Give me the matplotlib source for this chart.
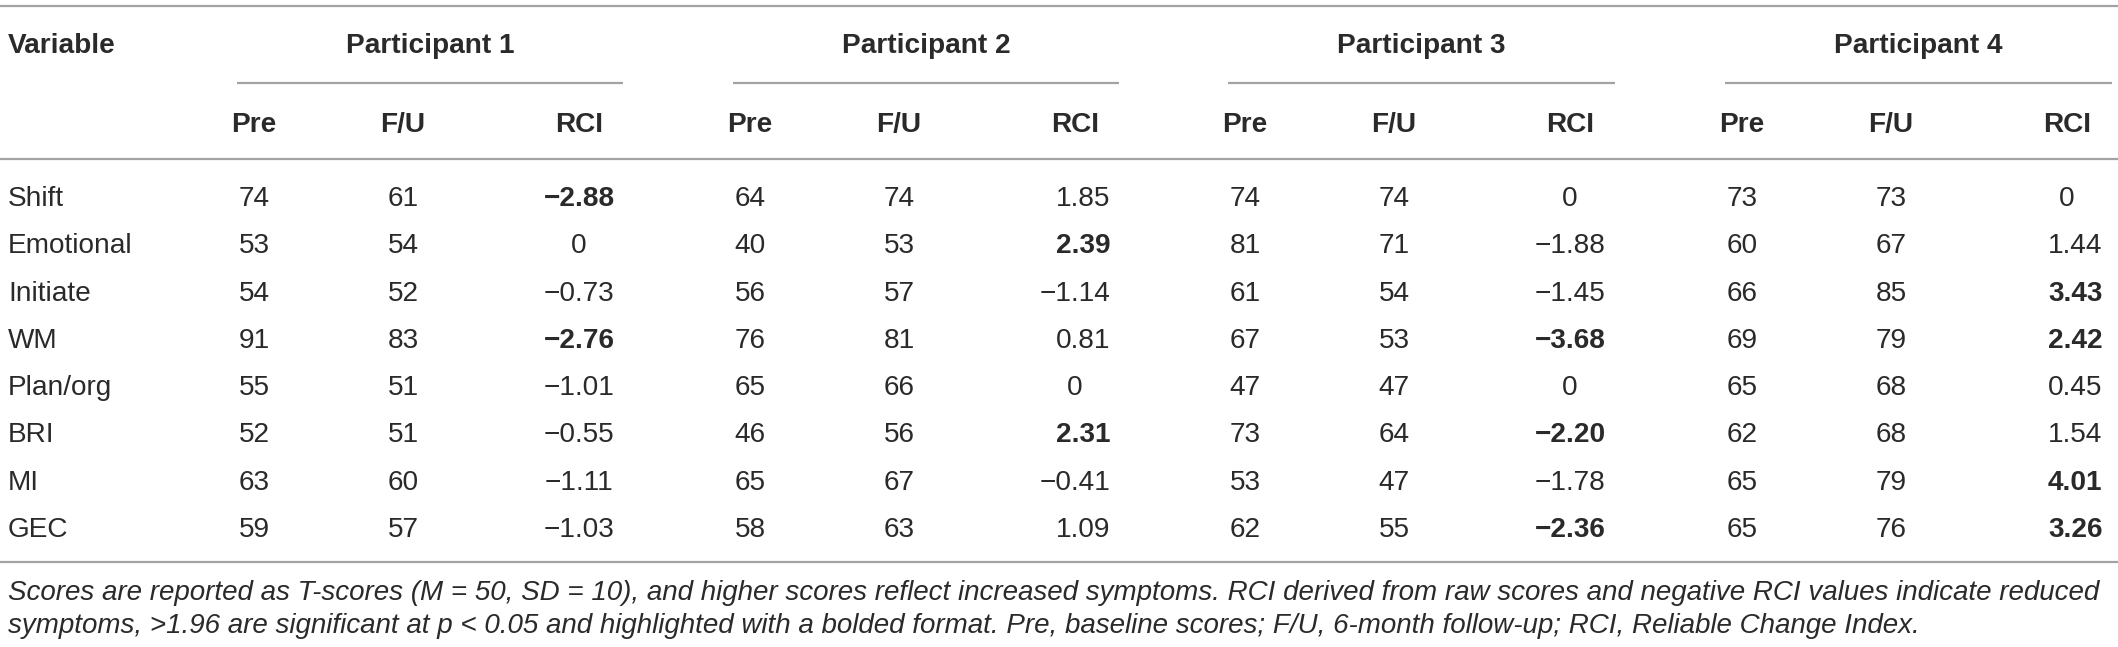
import matplotlib
matplotlib.use("Agg")
import matplotlib.pyplot as plt

# ---------------- data ----------------
variables = ["Shift", "Emotional", "Initiate", "WM", "Plan/org", "BRI", "MI", "GEC"]
participants = ["Participant 1", "Participant 2", "Participant 3", "Participant 4"]
sub_headers = ["Pre", "F/U", "RCI"]

p1_pre = [74, 53, 54, 91, 55, 52, 63, 59]
p1_fu = [61, 54, 52, 83, 51, 51, 60, 57]
p1_rci = [-2.88, 0, -0.73, -2.76, -1.01, -0.55, -1.11, -1.03]

p2_pre = [64, 40, 56, 76, 65, 46, 65, 58]
p2_fu = [74, 53, 57, 81, 66, 56, 67, 63]
p2_rci = [1.85, 2.39, -1.14, 0.81, 0, 2.31, -0.41, 1.09]

p3_pre = [74, 81, 61, 67, 47, 73, 53, 62]
p3_fu = [74, 71, 54, 53, 47, 64, 47, 55]
p3_rci = [0, -1.88, -1.45, -3.68, 0, -2.20, -1.78, -2.36]

p4_pre = [73, 60, 66, 69, 65, 62, 65, 65]
p4_fu = [73, 67, 85, 79, 68, 68, 79, 76]
p4_rci = [0, 1.44, 3.43, 2.42, 0.45, 1.54, 4.01, 3.26]

footnote_lines = [
    "Scores are reported as T-scores (M = 50, SD = 10), and higher scores reflect increased symptoms. "
    "RCI derived from raw scores and negative RCI values indicate reduced",
    "symptoms, >1.96 are significant at p < 0.05 and highlighted with a bolded format. "
    "Pre, baseline scores; F/U, 6-month follow-up; RCI, Reliable Change Index.",
]

data = [
    (p1_pre, p1_fu, p1_rci),
    (p2_pre, p2_fu, p2_rci),
    (p3_pre, p3_fu, p3_rci),
    (p4_pre, p4_fu, p4_rci),
]

# ---------------- layout ----------------
W, H = 2118, 647
DPI = 100
FONT = "Liberation Sans"
TXT = "#2a2a2a"
LINE = "#a3a3a3"
FS = 28 * 72 / DPI          # 28 px body text

fig = plt.figure(figsize=(W / DPI, H / DPI), dpi=DPI)
ax = fig.add_axes([0, 0, 1, 1])
ax.set_xlim(0, W)
ax.set_ylim(H, 0)
ax.axis("off")

group_start = [237, 733, 1228, 1725]
group_end = [623, 1119, 1615, 2112]
col_off = [17, 166, 342]

def hline(y, x0, x1, lw=1.6):
    ax.plot([x0, x1], [y, y], color=LINE, lw=lw, solid_capstyle="butt")

hline(6, 0, W)
hline(159, 0, W)
hline(562, 0, W)

ax.text(8, 53, "Variable", fontsize=FS, fontweight="bold", family=FONT,
        color=TXT, ha="left", va="baseline")

for g, name in enumerate(participants):
    x0, x1 = group_start[g], group_end[g]
    ax.text((x0 + x1) / 2, 53, name, fontsize=FS, fontweight="bold", family=FONT,
            color=TXT, ha="center", va="baseline")
    hline(83, x0, x1)
    for c, sh in enumerate(sub_headers):
        ax.text(x0 + col_off[c], 132, sh, fontsize=FS, fontweight="bold", family=FONT,
                color=TXT, ha="center", va="baseline")

fig.canvas.draw()
renderer = fig.canvas.get_renderer()
inv = ax.transData.inverted()

def fmt(v):
    if v == 0:
        return "0"
    s = f"{abs(v):.2f}"
    return ("\u2212" + s) if v < 0 else s

row_base0 = 206
row_pitch = 47.3
for i, var in enumerate(variables):
    yb = row_base0 + i * row_pitch
    ax.text(8, yb, var, fontsize=FS, family=FONT, color=TXT, ha="left", va="baseline")
    for g in range(4):
        pre, fu, rci = data[g]
        x0 = group_start[g]
        ax.text(x0 + col_off[0], yb, str(pre[i]), fontsize=FS, family=FONT,
                color=TXT, ha="center", va="baseline")
        ax.text(x0 + col_off[1], yb, str(fu[i]), fontsize=FS, family=FONT,
                color=TXT, ha="center", va="baseline")
        v = rci[i]
        bold = abs(v) > 1.96
        w = "bold" if bold else "normal"
        cx = x0 + col_off[2]
        s = fmt(v)
        if v > 0:
            # centre as if a minus sign were present
            ghost = ax.text(cx, yb, "\u2212" + s, fontsize=FS, family=FONT,
                            fontweight=w, ha="center", va="baseline", alpha=0)
            bb = ghost.get_window_extent(renderer=renderer)
            xr = inv.transform((bb.x1, bb.y0))[0]
            ghost.remove()
            ax.text(xr, yb, s, fontsize=FS, family=FONT, fontweight=w,
                    color=TXT, ha="right", va="baseline")
        else:
            ax.text(cx, yb, s, fontsize=FS, family=FONT, fontweight=w,
                    color=TXT, ha="center", va="baseline")

# footnote: fit first line to the table width
fs_note = 26.5 * 72 / DPI
probe = ax.text(8, 600, footnote_lines[0], fontsize=fs_note, family=FONT,
                style="italic", ha="left", va="baseline", alpha=0)
pw = probe.get_window_extent(renderer=renderer).width
probe.remove()
fs_note *= 2098.0 / pw

for k, line in enumerate(footnote_lines):
    ax.text(8, 600 + k * 33, line, fontsize=fs_note, family=FONT, style="italic",
            color=TXT, ha="left", va="baseline")

fig.savefig("out.png", dpi=DPI)
